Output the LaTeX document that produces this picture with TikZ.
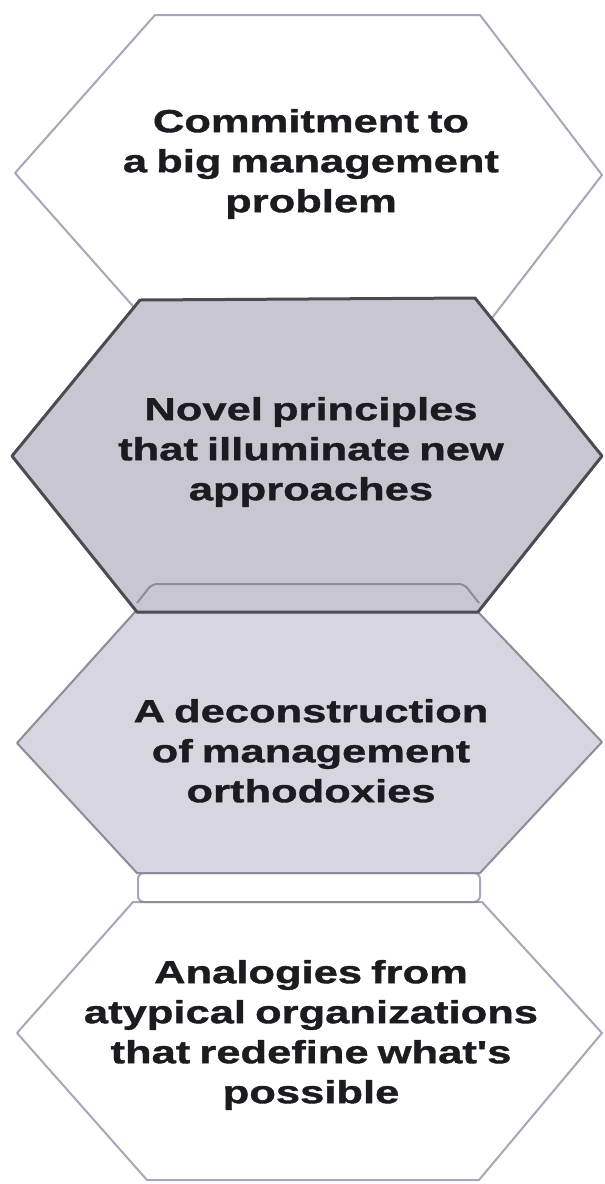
\documentclass[tikz,border=0pt]{standalone}
\usepackage{fontspec}
\newfontfamily\hexfont[FakeStretch=1.36, FakeBold=1.2, WordSpace=0.75]{Liberation Sans}
\definecolor{lineA}{HTML}{ABA4BA}
\definecolor{lineB}{HTML}{4C4B55}
\definecolor{lineC}{HTML}{8F8B9A}
\definecolor{fillB}{HTML}{C8C6D0}
\definecolor{fillC}{HTML}{D7D5DF}
\definecolor{ink}{HTML}{1C1B20}
\tikzset{
  hexwhite/.style={draw=lineA, line width=2pt, fill=white, line join=round},
  hexdark/.style={draw=lineB, line width=3pt, fill=fillB, line join=round},
  hexgray/.style={draw=lineC, line width=2pt, fill=fillC, line join=round},
  label/.style={anchor=north, inner sep=0pt, align=center, text=ink,
    font=\hexfont\bfseries\fontsize{32}{40}\selectfont},
}
\newcommand{\topstrut}{\rule{0pt}{25pt}}
\begin{document}
\begin{tikzpicture}[x=1pt,y=-1pt]
\useasboundingbox (0,0) rectangle (605,1184);
\fill[white] (0,0) rectangle (605,1184);
% hexagon 1 (white, back)
\draw[hexwhite] (155,15) -- (480,15) -- (602,175) -- (482,331) -- (155,331) -- (15,173) -- cycle;
% hexagon 4 (white)
\draw[hexwhite] (133,902) -- (482,902) -- (602,1033) -- (479,1180) -- (147,1180) -- (17,1033) -- cycle;
% band between 3 and 4
\draw[draw=lineA, line width=2pt, fill=white, rounded corners=6pt] (138,873) rectangle (480,902);
\draw[draw=lineC, line width=2.5pt] (140,902) -- (478,902);
% hexagon 3 (gray)
\draw[hexgray] (135,612) -- (478,612) -- (602,742) -- (480,873) -- (137,873) -- (17,743) -- cycle;
% hexagon 2 (dark outline, front)
\draw[hexdark] (140,300) -- (475,298) -- (602,456) -- (478,612) -- (137,612) -- (12,456) -- cycle;
\draw[lineC, line width=2pt, rounded corners=5pt] (137,603) -- (152,584) -- (464,584) -- (479,603);
% texts
\node[label] (t1) at (311,132-25) {\topstrut Commitment to\\a big management\\problem};
\node[label] (t2) at (311,420-25) {\topstrut Novel principles\\that illuminate new\\approaches};
\node[label] (t3) at (311,722-25) {\topstrut A deconstruction\\of management\\orthodoxies};
\node[label] (t4) at (311,983-25) {\topstrut Analogies from\\atypical organizations\\that redefine what's\\possible};
\end{tikzpicture}
\end{document}
